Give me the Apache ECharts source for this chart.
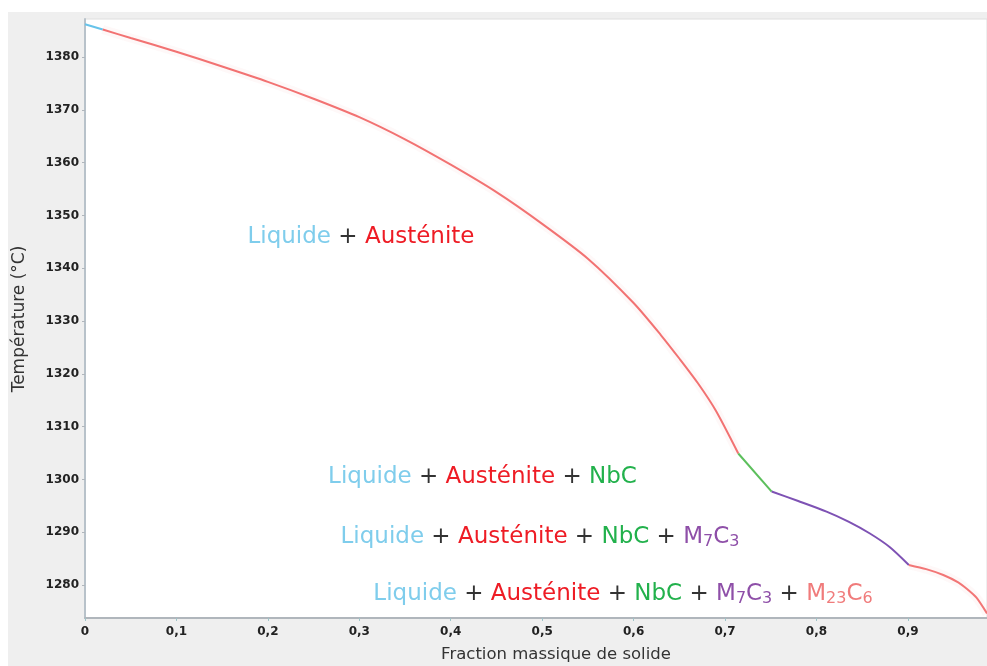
<!DOCTYPE html>
<html><head><meta charset="utf-8">
<script src="https://cdn.jsdelivr.net/npm/echarts@6/dist/echarts.min.js"></script>
<style>html,body{margin:0;padding:0;background:#fff}#c{width:987px;height:666px}</style>
</head><body><div id="c"></div>
<script>
// Tick labels
const xTicks = [0, 0.1, 0.2, 0.3, 0.4, 0.5, 0.6, 0.7, 0.8, 0.9];
const yTicks = [1280, 1290, 1300, 1310, 1320, 1330, 1340, 1350, 1360, 1370, 1380];
const xRange = [0, 0.9865];
const yRange = [1273.75, 1387.2];

// Solidification path segments [fraction solid, temperature °C]
const liquide = [[0, 1386.2], [0.0194, 1385.2]];
const austenite = [[0.0194, 1385.2], [0.05, 1383.6], [0.1, 1381.0], [0.15, 1378.2], [0.2, 1375.3],
  [0.25, 1372.1], [0.3, 1368.6], [0.35, 1364.4], [0.4, 1359.6], [0.45, 1354.4], [0.5, 1348.4],
  [0.55, 1341.8], [0.6, 1333.4], [0.63, 1327.3], [0.65, 1322.9], [0.67, 1318.3], [0.69, 1313.0],
  [0.7145, 1304.9]];
const nbc = [[0.7145, 1304.9], [0.751, 1297.7]];
const m7c3 = [[0.751, 1297.7], [0.78, 1295.9], [0.811, 1293.9], [0.835, 1292.0], [0.858, 1289.8], [0.88, 1287.2], [0.901, 1283.8]];
const m23c6 = [[0.901, 1283.8], [0.92, 1283.0], [0.9387, 1281.9], [0.955, 1280.5], [0.965, 1279.2], [0.975, 1277.6], [0.9865, 1274.6]];

const FONT = 'DejaVu Sans';
const fmt = v => String(v).replace('.', ',');

const richStyles = {
  liq: {fill: '#7fcdec', fontSize: 23, fontFamily: FONT},
  aus: {fill: '#ee1c25', fontSize: 23, fontFamily: FONT},
  plus: {fill: '#333333', fontSize: 23, fontFamily: FONT},
  nbc: {fill: '#22b14c', fontSize: 23, fontFamily: FONT},
  m7: {fill: '#8e4fa8', fontSize: 23, fontFamily: FONT},
  m7s: {fill: '#8e4fa8', fontSize: 16, fontFamily: FONT, padding: [10, 0, 0, 0]},
  m23: {fill: '#f07b7b', fontSize: 23, fontFamily: FONT},
  m23s: {fill: '#f07b7b', fontSize: 16, fontFamily: FONT, padding: [10, 0, 0, 0]}
};
const L = '{liq|Liquide}{plus| + }{aus|Austénite}';
const N = '{plus| + }{nbc|NbC}';
const M7 = '{plus| + }{m7|M}{m7s|7}{m7|C}{m7s|3}';
const M23 = '{plus| + }{m23|M}{m23s|23}{m23|C}{m23s|6}';

function label(text, x, y) {
  return {type: 'text', x: x, y: y, z: 100, silent: true,
    style: {text: text, rich: richStyles, align: 'center', verticalAlign: 'middle', fontSize: 23, fontFamily: FONT}};
}

const lineSeries = (name, data, color) => ({
  name: name, type: 'line', data: data, showSymbol: false, smooth: 0.25,
  lineStyle: {color: color, width: 2}, z: 3, animation: false
});
const haloSeries = (data, color) => ({
  type: 'line', data: data, showSymbol: false, smooth: 0.25, silent: true,
  lineStyle: {color: color, width: 9, opacity: 0.05}, z: 2, animation: false
});

const chart = echarts.init(document.getElementById('c'), null, {renderer: 'canvas'});
chart.setOption({
  animation: false,
  backgroundColor: '#ffffff',
  grid: {left: 85, top: 19, right: 0, bottom: 48, containLabel: false},
  xAxis: {
    type: 'value', min: xRange[0], max: xRange[1],
    axisLine: {show: true, lineStyle: {color: '#b0b6bc', width: 2}},
    axisTick: {show: true, length: 3, customValues: xTicks, lineStyle: {color: '#9fc4c8'}},
    axisLabel: {customValues: xTicks, formatter: fmt, color: '#222', fontWeight: 'bold', fontSize: 12, fontFamily: FONT, margin: 8},
    splitLine: {show: false}
  },
  yAxis: {
    type: 'value', min: yRange[0], max: yRange[1],
    axisLine: {show: true, lineStyle: {color: '#b8c2ca', width: 2}},
    axisTick: {show: true, length: 3, customValues: yTicks, lineStyle: {color: '#b0b6bc'}},
    axisLabel: {customValues: yTicks, formatter: v => String(v), color: '#222', fontWeight: 'bold', fontSize: 12, fontFamily: FONT, margin: 6},
    splitLine: {show: false}
  },
  graphic: [
    {type: 'rect', z: -100, silent: true, shape: {x: 8, y: 12, width: 979, height: 654}, style: {fill: '#efefef'}},
    {type: 'rect', z: -99, silent: true, shape: {x: 85, y: 19, width: 902, height: 599}, style: {fill: '#ffffff', stroke: '#dedede', lineWidth: 1}},
    {type: 'text', x: 556, y: 655, z: 100, silent: true,
      style: {text: 'Fraction massique de solide', fill: '#333', fontSize: 16.5, fontFamily: FONT, align: 'center', verticalAlign: 'middle'}},
    {type: 'text', x: 20, y: 319, rotation: Math.PI / 2, z: 100, silent: true,
      style: {text: 'Température (°C)', fill: '#333', fontSize: 17, fontFamily: FONT, align: 'center', verticalAlign: 'middle'}},
    label(L, 361, 237),
    label(L + N, 482.5, 477),
    label(L + N + M7, 540, 537),
    label(L + N + M7 + M23, 623, 594)
  ],
  series: [
    haloSeries(austenite, '#f07070'),
    haloSeries(m23c6, '#f07070'),
    lineSeries('Liquide', liquide, '#67c3ea'),
    lineSeries('Austénite', austenite, '#f27272'),
    lineSeries('NbC', nbc, '#5cbf5c'),
    lineSeries('M7C3', m7c3, '#7e52b4'),
    lineSeries('M23C6', m23c6, '#f27676')
  ]
});
</script></body></html>
